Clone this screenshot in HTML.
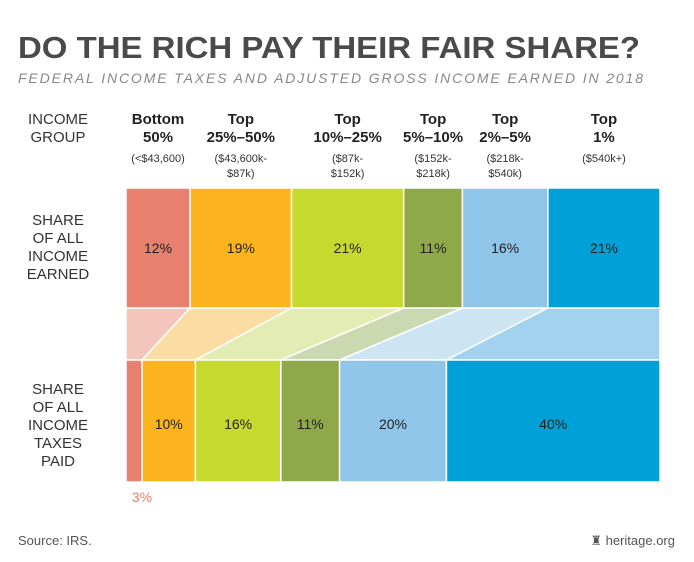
<!DOCTYPE html>
<html><head><meta charset="utf-8">
<style>
body{margin:0;background:#fff;}
svg{display:block;font-family:"Liberation Sans",sans-serif;}
</style></head>
<body>
<svg id="chart" width="694" height="562" viewBox="0 0 694 562">
<text x="18" y="58" font-size="31" font-weight="bold" fill="#4a4a4a" textLength="622" lengthAdjust="spacingAndGlyphs">DO THE RICH PAY THEIR FAIR SHARE?</text>
<text x="18" y="83" font-size="14" font-style="italic" fill="#888" textLength="625" lengthAdjust="spacing">FEDERAL INCOME TAXES AND ADJUSTED GROSS INCOME EARNED IN 2018</text>
<text x="58" y="124" font-size="15" fill="#333" text-anchor="middle"><tspan x="58">INCOME</tspan><tspan x="58" dy="18">GROUP</tspan></text>
<text x="58" y="225" font-size="15" fill="#333" text-anchor="middle"><tspan x="58">SHARE</tspan><tspan x="58" dy="18">OF ALL</tspan><tspan x="58" dy="18">INCOME</tspan><tspan x="58" dy="18">EARNED</tspan></text>
<text x="58" y="394" font-size="15" fill="#333" text-anchor="middle"><tspan x="58">SHARE</tspan><tspan x="58" dy="18">OF ALL</tspan><tspan x="58" dy="18">INCOME</tspan><tspan x="58" dy="18">TAXES</tspan><tspan x="58" dy="18">PAID</tspan></text>
<g id="g"></g>
<text x="18" y="545" font-size="13" fill="#555">Source: IRS.</text>
<text x="675" y="545" font-size="13" fill="#555" text-anchor="end">&#9820; heritage.org</text>
</svg>
<script>
const groups=["Bottom 50%","Top 25%–50%","Top 10%–25%","Top 5%–10%","Top 2%–5%","Top 1%"];
const groupTop=["Bottom","Top","Top","Top","Top","Top"];
const groupBottom=["50%","25%–50%","10%–25%","5%–10%","2%–5%","1%"];
const ranges1=["(<$43,600)","($43,600k-","($87k-","($152k-","($218k-","($540k+)"];
const ranges2=["","$87k)","$152k)","$218k)","$540k)",""];
const incomeShare=[12,19,21,11,16,21];
const taxShare=[3,10,16,11,20,40];
const colors=["#e8806e","#fbb41e","#c5d92f","#8fa84a","#8ec5e8","#00a1d8"];
const lightColors=["#f3c5bb","#fbdca3","#e3edb3","#cbd9b0","#cde5f3","#a3d2ee"];
const NS="http://www.w3.org/2000/svg";
const g=document.getElementById('g');
const X0=126,X1=660;
function xs(p){return X0+(X1-X0)*p/100;}
function mk(t,a){const e=document.createElementNS(NS,t);for(const k in a)e.setAttribute(k,a[k]);g.appendChild(e);return e;}
function cum(arr){const r=[0];arr.forEach(v=>r.push(r[r.length-1]+v));const s=r[r.length-1];return r.map(v=>v*100/s);}
const ci=cum(incomeShare),ct=cum(taxShare);
const T0=188,T1=308,B0=360,B1=482;
for(let i=0;i<groups.length;i++){
  const a=xs(ci[i]),b=xs(ci[i+1]),c=xs(ct[i]),d=xs(ct[i+1]);
  const p=mk('polygon',{points:`${a},${T1} ${b},${T1} ${d},${B0} ${c},${B0}`,fill:lightColors[i],stroke:'#fff','stroke-width':1.5});
  
  
  const r1=mk('rect',{x:a,y:T0,width:b-a,height:T1-T0,fill:colors[i],stroke:'#fff','stroke-width':1.5});
  
  
  const r2=mk('rect',{x:c,y:B0,width:d-c,height:B1-B0,fill:colors[i],stroke:'#fff','stroke-width':1.5});
  
  
  const cx=(a+b)/2;
  const t1=mk('text',{x:cx,y:253,'font-size':14,'text-anchor':'middle',fill:'#222'});t1.textContent=incomeShare[i]+'%';
  
  
  const t2=(taxShare[i]<5)?mk('text',{x:(c+d)/2+8,y:502,'font-size':14,'text-anchor':'middle',fill:'#e8806e'}):mk('text',{x:(c+d)/2,y:429,'font-size':14,'text-anchor':'middle',fill:'#222'});
  t2.textContent=taxShare[i]+'%';
  
  
  const h=mk('text',{x:cx,y:124,'font-size':15,'font-weight':'bold','text-anchor':'middle',fill:'#222'});
  h.innerHTML=`<tspan x="${cx}">${groupTop[i]}</tspan><tspan x="${cx}" dy="18">${groupBottom[i]}</tspan>`;
  
  
  const rr=mk('text',{x:cx,y:162,'font-size':11,'text-anchor':'middle',fill:'#333'});
  rr.innerHTML=`<tspan x="${cx}">${ranges1[i].replace('<','&lt;')}</tspan><tspan x="${cx}" dy="15">${ranges2[i]}</tspan>`;
  
  
}
</script>
</body></html>
